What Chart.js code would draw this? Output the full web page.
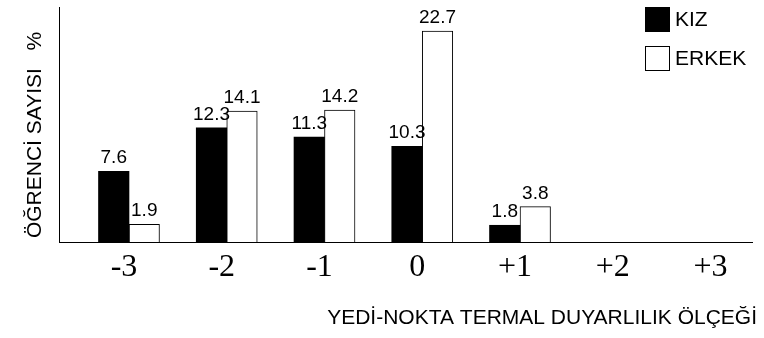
<!DOCTYPE html>
<html><head><meta charset="utf-8">
<script src="https://cdn.jsdelivr.net/npm/chart.js@4/dist/chart.umd.min.js"></script>
<style>html,body{margin:0;padding:0;background:#fff}</style>
</head><body>
<canvas id="c" width="764" height="338"></canvas>
<script>
const categories = [-3, -2, -1, 0, 1, 2, 3];
const tickLabels = ['-3', '-2', '-1', '0', '+1', '+2', '+3'];
const kizValues = [7.6, 12.3, 11.3, 10.3, 1.8, null, null];
const erkekValues = [1.9, 14.1, 14.2, 22.7, 3.8, null, null];
const seriesNames = ['KIZ', 'ERKEK'];
const yTitle = 'ÖĞRENCİ SAYISI   %';
const xTitle = 'YEDİ-NOKTA TERMAL DUYARLILIK ÖLÇEĞİ';

const SANS = '"Liberation Sans", Arial, sans-serif';
const SERIF = '"Liberation Serif", "Times New Roman", serif';

const valueLabels = {
  id: 'valueLabels',
  afterDatasetsDraw(chart) {
    const ctx = chart.ctx;
    ctx.save();
    ctx.font = '19px ' + SANS;
    ctx.fillStyle = '#000';
    ctx.textAlign = 'center';
    ctx.textBaseline = 'alphabetic';
    chart.data.datasets.forEach((ds, di) => {
      const meta = chart.getDatasetMeta(di);
      meta.data.forEach((el, i) => {
        const v = ds.data[i].y;
        if (v === null || v === undefined) return;
        ctx.fillText(v.toFixed(1), el.x, el.y - 8);
      });
    });
    ctx.restore();
  }
};

const customTexts = {
  id: 'customTexts',
  afterDraw(chart) {
    const ctx = chart.ctx;
    ctx.save();
    // legend
    chart.data.datasets.forEach((ds, i) => {
      const bx = 645, by = 7 + i * 39, s = 25;
      ctx.fillStyle = ds.backgroundColor;
      ctx.fillRect(bx, by, s, s);
      ctx.strokeStyle = '#000';
      ctx.lineWidth = 1;
      ctx.strokeRect(bx + 0.5, by + 0.5, s - 1, s - 1);
      ctx.fillStyle = '#000';
      ctx.font = '21px ' + SANS;
      ctx.textAlign = 'left';
      ctx.textBaseline = 'middle';
      ctx.fillText(ds.label, 675, by + s / 2 + 1);
    });
    // y title
    ctx.save();
    ctx.translate(35, 135);
    ctx.rotate(-Math.PI / 2);
    ctx.font = '21px ' + SANS;
    ctx.textAlign = 'center';
    ctx.textBaseline = 'middle';
    ctx.fillStyle = '#000';
    ctx.fillText(yTitle, 0, 0);
    ctx.restore();
    // x title
    ctx.font = '21px ' + SANS;
    ctx.textAlign = 'right';
    ctx.textBaseline = 'middle';
    ctx.fillStyle = '#000';
    ctx.fillText(xTitle, 757, 318);
    ctx.restore();
  }
};

new Chart(document.getElementById('c'), {
  type: 'bar',
  data: {
    datasets: [
      {
        label: seriesNames[0],
        data: categories.map((c, i) => ({ x: c, y: kizValues[i] })),
        backgroundColor: '#000',
        borderColor: '#000',
        borderWidth: 0,
        barThickness: 30.5
      },
      {
        label: seriesNames[1],
        data: categories.map((c, i) => ({ x: c, y: erkekValues[i] })),
        backgroundColor: '#fff',
        borderColor: '#000',
        borderWidth: 1,
        barThickness: 30.5
      }
    ]
  },
  options: {
    responsive: false,
    animation: false,
    layout: { padding: { left: 59, right: 12, top: 7, bottom: 46 } },
    plugins: { legend: { display: false }, tooltip: { enabled: false } },
    scales: {
      x: {
        type: 'linear',
        min: -3.716,
        max: 3.373,
        offset: false,
        grid: { display: false, drawTicks: false },
        border: { display: true, color: '#000', width: 1 },
        ticks: {
          autoSkip: false,
          maxRotation: 0,
          padding: 6,
          labelOffset: -5,
          color: '#000',
          font: { family: SERIF, size: 32 },
          callback: (v) => { const i = categories.indexOf(v); return i >= 0 ? tickLabels[i] : ''; }
        },
        afterBuildTicks: (s) => { s.ticks = categories.map(v => ({ value: v })); },
        afterFit: (s) => { s.height = 50; }
      },
      y: {
        min: 0,
        max: 25.3,
        grid: { display: false, drawTicks: false },
        border: { display: true, color: '#000', width: 1 },
        ticks: { display: false },
        afterFit: (s) => { s.width = 0; }
      }
    }
  },
  plugins: [valueLabels, customTexts]
});
</script>
</body></html>
